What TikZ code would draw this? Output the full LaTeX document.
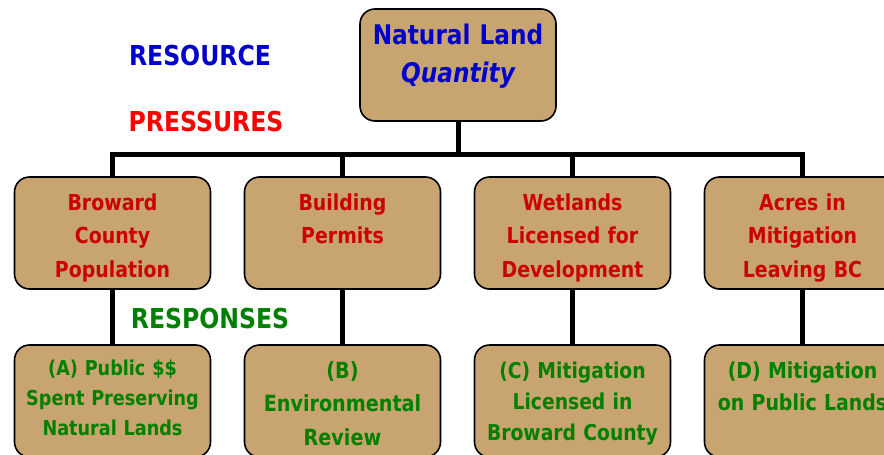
\documentclass[tikz,border=0pt]{standalone}
\usepackage{fontspec}
\setmainfont{DejaVu Sans}[FakeStretch=0.86]

\definecolor{landtan}{RGB}{200,165,112}
\definecolor{resblue}{RGB}{0,0,204}
\definecolor{presred}{RGB}{255,0,0}
\definecolor{boxred}{RGB}{204,0,0}
\definecolor{respgreen}{RGB}{0,128,0}

\tikzset{
  landbox/.style={draw=black, line width=1.6pt, rounded corners=15pt, fill=landtan,
    minimum width=196pt, minimum height=112pt, inner sep=0pt},
  boxtext/.style={anchor=base, text width=196pt, align=center, inner sep=0pt},
  wire/.style={line width=5pt, line join=miter},
  heading/.style={anchor=base, inner sep=0pt, font=\bfseries\fontsize{27.4}{30}\selectfont}
}

\begin{document}
\begin{tikzpicture}[x=1pt, y=-1pt]
\useasboundingbox (0,0) rectangle (884,455);

% boxes
\node[landbox] (land) at (458,65) {};
\node[landbox] (pop) at (112.5,233) {};
\node[landbox] (permits) at (342.5,233) {};
\node[landbox] (wetlands) at (572.5,233) {};
\node[landbox] (leaving) at (802.5,233) {};
\node[landbox] (public) at (112.5,401) {};
\node[landbox] (review) at (342.5,401) {};
\node[landbox] (licensed) at (572.5,401) {};
\node[landbox] (publicland) at (802.5,401) {};

% connectors
\coordinate (bus) at (458,154);
\draw[wire] (pop.north) |- (bus -| leaving.north) -- (leaving.north);
\draw[wire] (land.south) -- (bus);
\draw[wire] (permits.north |- bus) -- (permits.north);
\draw[wire] (wetlands.north |- bus) -- (wetlands.north);
\foreach \up/\down in {pop/public, permits/review, wetlands/licensed, leaving/publicland}
  \draw[wire] (\up.south) -- (\down.north);

% headings
\node[heading, text=resblue] (resource) at (200,65) {RESOURCE};
\node[heading, text=presred] (pressures) at (206,131) {PRESSURES};
\node[heading, text=respgreen] (responses) at (210,328) {RESPONSES};

% box texts
\node[boxtext, text=resblue, font=\bfseries\fontsize{27}{38}\selectfont] (landtext)
  at (458,45) {Natural Land\\\itshape Quantity};

\node[boxtext, text=boxred, font=\bfseries\fontsize{22}{33.5}\selectfont] (poptext)
  at (112.5,210) {Broward\\County\\Population};
\node[boxtext, text=boxred, font=\bfseries\fontsize{22}{33.5}\selectfont] (permitstext)
  at (342.5,210) {Building\\Permits};
\node[boxtext, text=boxred, font=\bfseries\fontsize{22}{33.5}\selectfont] (wetlandstext)
  at (572.5,210) {Wetlands\\Licensed for\\Development};
\node[boxtext, text=boxred, font=\bfseries\fontsize{22}{33.5}\selectfont] (leavingtext)
  at (802.5,210) {Acres in\\Mitigation\\Leaving BC};

\node[boxtext, text=respgreen, font=\bfseries\fontsize{20.5}{30}\selectfont] (publictext)
  at (112.5,375) {(A) Public \$\$\\Spent Preserving\\Natural Lands};
\node[boxtext, text=respgreen, font=\bfseries\fontsize{22.3}{33.5}\selectfont] (reviewtext)
  at (342.5,378) {(B)\\Environmental\\Review};
\node[boxtext, text=respgreen, font=\bfseries\fontsize{21.8}{31}\selectfont] (licensedtext)
  at (572.5,378) {(C) Mitigation\\Licensed in\\Broward County};
\node[boxtext, text=respgreen, font=\bfseries\fontsize{22}{32}\selectfont] (publiclandtext)
  at (802.5,378) {(D) Mitigation\\on Public Lands};
\end{tikzpicture}
\end{document}
